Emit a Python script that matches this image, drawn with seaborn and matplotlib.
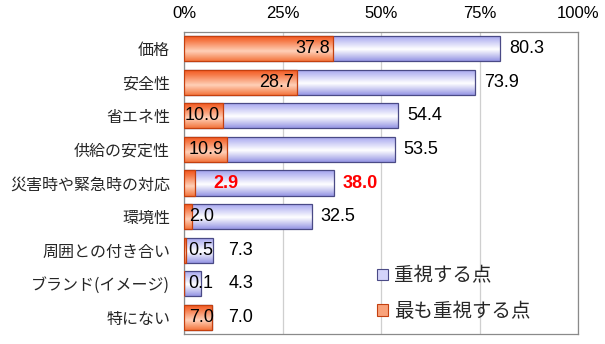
import numpy as np
import pandas as pd
import matplotlib
matplotlib.use("Agg")
import matplotlib.pyplot as plt
import seaborn as sns
from matplotlib.colors import to_rgba
from matplotlib.patches import Patch

# --- data -------------------------------------------------------------
categories = ["価格", "安全性", "省エネ性", "供給の安定性", "災害時や緊急時の対応",
              "環境性", "周囲との付き合い", "ブランド(イメージ)", "特にない"]
important = [80.3, 73.9, 54.4, 53.5, 38.0, 32.5, 7.3, 4.3, 7.0]          # 重視する点
most_important = [37.8, 28.7, 10.0, 10.9, 2.9, 2.0, 0.5, 0.1, 7.0]      # 最も重視する点
highlight = "災害時や緊急時の対応"
x_ticks = [0, 25, 50, 75, 100]
x_tick_labels = ["0%", "25%", "50%", "75%", "100%"]
series_names = ["重視する点", "最も重視する点"]

# --- style ------------------------------------------------------------
sns.set_theme(style="white")
plt.rcParams["font.family"] = ["Noto Sans CJK JP", "DejaVu Sans"]
NUM_FONT = "Liberation Sans"

BLUE_EDGE = "#4a4a86"
ORANGE_EDGE = "#c4400f"

df = pd.DataFrame({"cat": categories, "imp": important, "most": most_important})

fig = plt.figure(figsize=(6.05, 3.44), dpi=100)
ax = fig.add_axes([184 / 605, 1 - 334 / 344, 394 / 605, 302 / 344])

BAR_W = 0.75
sns.barplot(data=df, x="imp", y="cat", order=categories, color="#c8c8f8",
            width=BAR_W, edgecolor=BLUE_EDGE, linewidth=0.9, ax=ax)
n_blue = len(ax.patches)
sns.barplot(data=df, x="most", y="cat", order=categories, color="#f89060",
            width=BAR_W, edgecolor=ORANGE_EDGE, linewidth=0.9, ax=ax)


def gradient(stops, n=64):
    """Vertical RGBA gradient from (position, colour) stops."""
    pos = np.array([s[0] for s in stops])
    cols = np.array([to_rgba(s[1]) for s in stops])
    t = np.linspace(0, 1, n)
    arr = np.stack([np.interp(t, pos, cols[:, k]) for k in range(4)], axis=1)
    return arr[:, None, :]


blue_grad = gradient([(0, "#a0a0ee"), (0.55, "#ffffff"), (1, "#9696e4")])
orange_grad = gradient([(0, "#f2531a"), (0.22, "#f67a48"), (0.62, "#ffd0b8"),
                        (1, "#f4773f")])

xlim, ylim = (0, 100), ax.get_ylim()
for k, p in enumerate(ax.patches):
    is_blue = k < n_blue
    x0, y0 = p.get_x(), p.get_y()
    w, h = p.get_width(), p.get_height()
    base = 2.0 if is_blue else 3.0
    im = ax.imshow(blue_grad if is_blue else orange_grad,
                   extent=(x0, x0 + w, y0 + h, y0), aspect="auto",
                   origin="upper", zorder=base, interpolation="bilinear")
    im.set_clip_path(p)
    p.set_facecolor("none")
    p.set_zorder(base + 0.5)
ax.set_xlim(*xlim)
ax.set_ylim(*ylim)

# --- value labels -----------------------------------------------------
for i, (cat, v_all, v_top) in enumerate(zip(categories, important, most_important)):
    hl = cat == highlight
    color = "#ff0000" if hl else "black"
    weight = "bold" if hl else "normal"
    # label of the overlaid (most important) bar
    if hl:
        ax.text(v_top + 4.5, i, f"{v_top:.1f}", ha="left", va="center", fontsize=13,
                family=NUM_FONT, color=color, fontweight=weight, zorder=6)
    elif v_top >= 9:
        ax.text(v_top - 0.8, i, f"{v_top:.1f}", ha="right", va="center", fontsize=13,
                family=NUM_FONT, color=color, zorder=6)
    else:
        ax.text(1.2, i, f"{v_top:.1f}", ha="left", va="center", fontsize=13,
                family=NUM_FONT, color=color, zorder=6)
    # label of the total bar
    ax.text(max(v_all, 9) + 2.2, i, f"{v_all:.1f}", ha="left", va="center", fontsize=13,
            family=NUM_FONT, color=color, fontweight=weight, zorder=6)

# --- axes -------------------------------------------------------------
ax.xaxis.tick_top()
ax.set_xticks(x_ticks)
ax.set_xticklabels(x_tick_labels, family=NUM_FONT, fontsize=12)
ax.tick_params(axis="x", length=0, pad=8, colors="black")
ax.tick_params(axis="y", which="major", length=0, pad=10, labelsize=11.5)
ax.set_yticks(np.arange(len(categories) - 1) + 0.5, minor=True)
ax.tick_params(axis="y", which="minor", direction="in", length=3, color="#808080", width=0.8)
ax.set_xlabel("")
ax.set_ylabel("")
ax.grid(axis="x", color="#cfcfcf", linewidth=0.9)
ax.set_axisbelow(True)
for s in ax.spines.values():
    s.set_visible(True)
    s.set_color("#8a8a8a")
    s.set_linewidth(0.9)

handles = [Patch(facecolor="#d4d4fa", edgecolor=BLUE_EDGE, linewidth=0.8),
           Patch(facecolor="#f9a27a", edgecolor=ORANGE_EDGE, linewidth=0.8)]
ax.legend(handles, series_names, loc="center left", bbox_to_anchor=(0.49, 0.134),
          frameon=False, fontsize=14, handlelength=0.55, handleheight=0.55,
          handletextpad=0.3, labelspacing=0.75, borderpad=0, borderaxespad=0)

fig.savefig("out.png", dpi=100)
